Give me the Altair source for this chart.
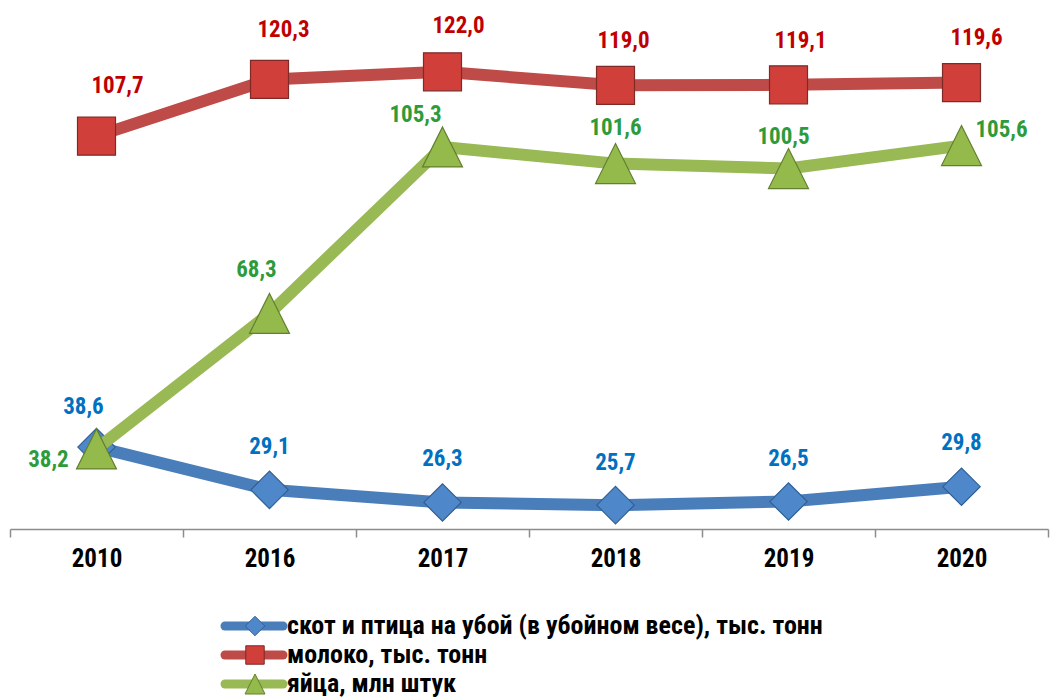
import altair as alt
import pandas as pd

# ---------------- data ----------------
years = ["2010", "2016", "2017", "2018", "2019", "2020"]
meat = [38.6, 29.1, 26.3, 25.7, 26.5, 29.8]
milk = [107.7, 120.3, 122.0, 119.0, 119.1, 119.6]
eggs = [38.2, 68.3, 105.3, 101.6, 100.5, 105.6]
series_names = [
    "скот и птица на убой (в убойном весе), тыс. тонн",
    "молоко, тыс. тонн",
    "яйца, млн штук",
]

# ---------------- label placement (pixels) ----------------
meat_dx = [-13, 0, 0, 0, 0, 0]
meat_dy = [-40, -43, -43, -42, -43, -44]
milk_dx = [21, 14, 16, 8, 12, 15]
milk_dy = [-50, -49, -46, -44, -44, -45]
eggs_dx = [-48, -13, -27, 0, -5, 40]
eggs_dy = [11, -43, -32, -36, -32, -16]

# ---------------- styles ----------------
FONT = "Liberation Sans Narrow, Arial Narrow, Roboto Condensed, Noto Sans Condensed, DejaVu Sans Condensed, sans-serif"
W, H = 1038, 522
PAD_L, PAD_T = 10, 7
line_colors = ["#4A7EBB", "#BE4B48", "#98B954"]
fill_colors = ["#4F88CA", "#D13F3B", "#93BA4B"]
stroke_colors = ["#2F5F94", "#7E2A27", "#62802F"]
label_colors = ["#0070C0", "#C00000", "#2E9B3B"]
TRI = "M0,-1L1,1L-1,1Z"
shapes = ["diamond", "square", TRI]
sizes = [1400, 1444, 1600]
legend_sizes = [380, 340, 400]

x_enc = alt.X(
    "year:N",
    bandPosition=0.5,
    scale=alt.Scale(type="band", domain=years, paddingInner=0, paddingOuter=0),
    axis=alt.Axis(
        title=None,
        labelAngle=0,
        labelFont=FONT,
        labelFontSize=25,
        labelFontWeight="bold",
        labelColor="#000000",
        labelPadding=9,
        domainColor="#8C8C8C",
        domainWidth=1.5,
        tickColor="#8C8C8C",
        tickWidth=1.5,
        tickSize=8,
        tickBand="extent",
        grid=False,
    ),
)
y_enc = alt.Y(
    "value:Q",
    scale=alt.Scale(domain=[20.4, 136.4], nice=False, zero=False),
    axis=None,
)

all_vals = [meat, milk, eggs]
all_dx = [meat_dx, milk_dx, eggs_dx]
all_dy = [meat_dy, milk_dy, eggs_dy]

line_layers, point_layers, text_layers = [], [], []
for i in range(3):
    df = pd.DataFrame({
        "year": years,
        "value": all_vals[i],
        "label": [f"{v:.1f}".replace(".", ",") for v in all_vals[i]],
        "dx": all_dx[i],
        "dy": all_dy[i],
    })
    base = alt.Chart(df)
    line_layers.append(
        base.mark_line(color=line_colors[i], strokeWidth=12, strokeJoin="round")
        .encode(x=x_enc, y=y_enc)
    )
    point_layers.append(
        base.mark_point(
            shape=shapes[i], size=sizes[i], filled=True, opacity=1,
            color=fill_colors[i], stroke=stroke_colors[i], strokeWidth=1.2,
        ).encode(x=x_enc, y=y_enc)
    )
    text_layers.append(
        base.mark_text(
            font=FONT, fontSize=23, fontWeight="bold", color=label_colors[i],
            align="center", baseline="middle",
            dx=alt.ExprRef("datum.dx"), dy=alt.ExprRef("datum.dy"),
        ).encode(x=x_enc, y=y_enc, text="label:N")
    )

layers = []
for i in range(3):
    layers += [line_layers[i], point_layers[i]]
layers += text_layers

# ---------------- legend (drawn manually) ----------------
leg_rows = [626, 655, 684]
one = pd.DataFrame({"k": [0]})
for i in range(3):
    yy = leg_rows[i] - PAD_T
    lb = alt.Chart(one)
    layers.append(
        lb.mark_rule(color=line_colors[i], strokeWidth=9, strokeCap="round").encode(
            x=alt.value(225 - PAD_L), x2=alt.value(283 - PAD_L), y=alt.value(yy)
        )
    )
    layers.append(
        lb.mark_point(
            shape=shapes[i], size=legend_sizes[i], filled=True, opacity=1,
            color=fill_colors[i], stroke=stroke_colors[i], strokeWidth=1,
        ).encode(x=alt.value(255 - PAD_L), y=alt.value(yy))
    )
    layers.append(
        lb.mark_text(
            font=FONT, fontSize=26, fontWeight="bold", color="#000000",
            align="left", baseline="middle", text=series_names[i],
        ).encode(x=alt.value(287 - PAD_L), y=alt.value(yy))
    )

chart = (
    alt.layer(*layers)
    .properties(
        width=W, height=H,
        autosize=alt.AutoSizeParams(type="none"),
        padding={"left": PAD_L, "top": PAD_T, "right": 1051 - W - PAD_L, "bottom": 700 - H - PAD_T},
        background="white",
    )
    .configure_view(stroke=None)
)

chart.save("out.html", embed_options={"renderer": "svg", "actions": False})
